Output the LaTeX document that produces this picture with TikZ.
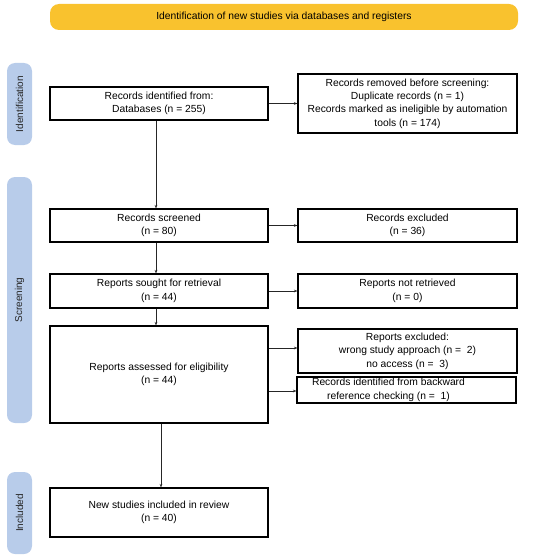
\documentclass[tikz,border=0pt]{standalone}
\usepackage{fontspec}
\setmainfont{Liberation Sans}
\usetikzlibrary{arrows.meta}
\definecolor{prismayellow}{HTML}{F9C22E}
\definecolor{prismablue}{HTML}{B8CCEA}
\tikzset{
  box/.style={draw=black, line width=1.1pt, fill=white, align=center, inner sep=1pt,
    font=\fontsize{10.3}{13.4}\selectfont, minimum width=218pt},
  side/.style={fill=prismablue, rounded corners=8pt, minimum width=25pt},
  sidetext/.style={rotate=90, text=black!85, font=\fontsize{10}{12}\selectfont},
  arr/.style={draw=black!85, line width=0.7pt, -{Stealth[length=3.5pt,width=2.6pt]}},
}
\begin{document}
\begin{tikzpicture}[x=1pt,y=-1pt]
\useasboundingbox (0,0) rectangle (550,559);
% top banner
\node[fill=prismayellow, rounded corners=9pt, minimum width=468pt, minimum height=26pt,
  font=\fontsize{10.3}{12}\selectfont] (top) at (284,17) {Identification of new studies via databases and registers};
% side labels
\node[side, minimum height=82pt] (sid) at (19.5,104) {};
\node[sidetext] (sidt) at (sid) {Identification};
\node[side, minimum height=246pt] (ssc) at (19.5,300) {};
\node[sidetext] (ssct) at (ssc) {Screening};
\node[side, minimum height=82pt] (sin) at (19.5,513) {};
\node[sidetext] (sint) at (sin) {Included};
% boxes
\node[box, minimum height=33pt] (ident) at (159,103.5) {Records identified from:\\Databases (n = 255)};
\node[box, minimum width=219pt, minimum height=59pt] (removed) at (407.5,103.5) {Records removed before screening:\\Duplicate records (n = 1)\\Records marked as ineligible by automation\\tools (n = 174)};
\node[box, minimum height=33pt] (screened) at (159,225.5) {Records screened\\(n = 80)};
\node[box, minimum width=219pt, minimum height=33pt] (excluded) at (407.5,225.5) {Records excluded\\(n = 36)};
\node[box, minimum height=34pt] (sought) at (159,291) {Reports sought for retrieval\\(n = 44)};
\node[box, minimum width=219pt, minimum height=34pt] (notret) at (407.5,291) {Reports not retrieved\\(n = 0)};
\node[box, minimum height=97pt] (assessed) at (159,374.5) {Reports assessed for eligibility\\(n = 44)};
\node[box, minimum width=219pt, minimum height=44pt] (repex) at (407.5,351) {Reports excluded:\\wrong study approach (n =~ 2)\\no access (n =~ 3)};
\node[box, minimum width=219pt, minimum height=26pt] (backward) at (406.5,390) {Records identified from backward\hspace*{36pt}\\reference checking (n =~ 1)\hspace*{36pt}};
\node[box, minimum height=49pt] (newst) at (159,512.5) {New studies included in review\\(n = 40)};
% connectors
\draw[arr] (ident.east) -- (removed.west);
\draw[arr] ([xshift=-3pt]ident.south) -- ([xshift=-3pt]screened.north);
\draw[arr] (screened.east) -- (excluded.west);
\draw[arr] ([xshift=-3pt]screened.south) -- ([xshift=-3pt]sought.north);
\draw[arr] (sought.east) -- (notret.west);
\draw[arr] ([xshift=-3pt]sought.south) -- ([xshift=-3pt]assessed.north);
\draw[arr] ([yshift=3pt]assessed.east |- repex.west) -- ([yshift=3pt]repex.west);
\draw[arr] ([yshift=-1pt]assessed.east |- backward.west) -- ([yshift=-1pt]backward.west);
\draw[arr] ([xshift=2pt]assessed.south) -- ([xshift=2pt]newst.north);
\end{tikzpicture}
\end{document}
